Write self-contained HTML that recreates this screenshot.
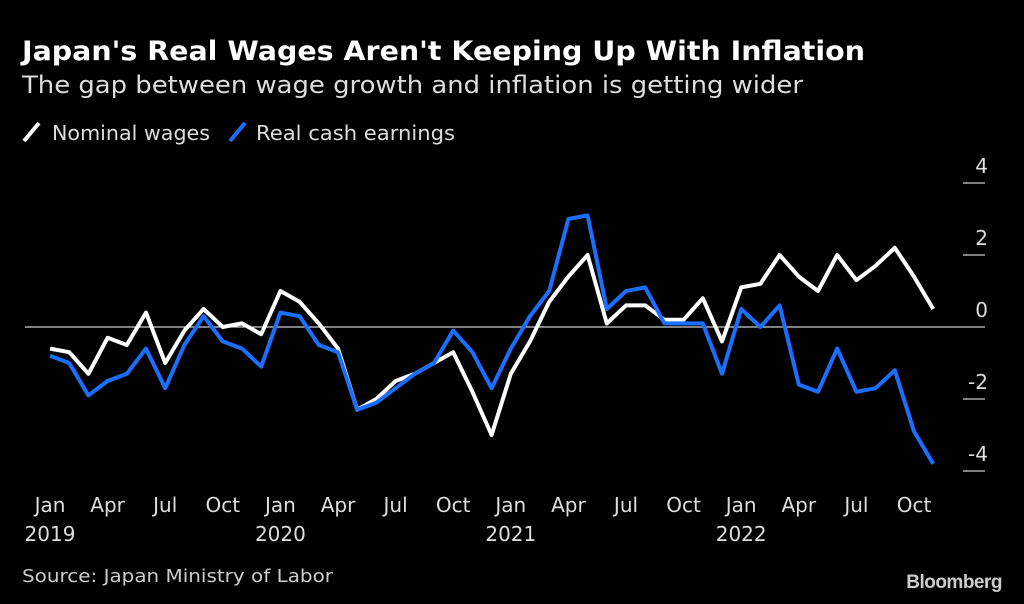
<!DOCTYPE html>
<html><head><meta charset="utf-8"><style>
html,body{margin:0;padding:0;background:#000;width:1024px;height:604px;overflow:hidden;font-family:"DejaVu Sans","Liberation Sans",sans-serif;color:#fff}
</style></head><body>
<svg width="1024" height="604" xmlns="http://www.w3.org/2000/svg" font-family="DejaVu Sans, Liberation Sans, sans-serif">
<text x="22" y="60" font-size="27" font-weight="bold" fill="#fff" textLength="843" lengthAdjust="spacingAndGlyphs">Japan's Real Wages Aren't Keeping Up With Inflation</text>
<text x="22" y="93" font-size="24" fill="#ddd" textLength="781" lengthAdjust="spacingAndGlyphs">The gap between wage growth and inflation is getting wider</text>
<g>
<line x1="24" y1="141" x2="39" y2="123" stroke="#fff" stroke-width="4"/>
<text x="52" y="140" font-size="20" fill="#ddd" textLength="158" lengthAdjust="spacingAndGlyphs">Nominal wages</text>
<line x1="230" y1="141" x2="245" y2="123" stroke="#1a6fff" stroke-width="4"/>
<text x="256" y="140" font-size="20" fill="#ddd" textLength="199" lengthAdjust="spacingAndGlyphs">Real cash earnings</text>
</g>
<g id="axes"></g>
<g id="series"></g>
<text x="22" y="582" font-size="18" fill="#ccc" textLength="311" lengthAdjust="spacingAndGlyphs">Source: Japan Ministry of Labor</text>
<text x="1002" y="588" font-size="19" font-weight="bold" fill="#ccc" text-anchor="end" font-family="Liberation Sans, sans-serif" letter-spacing="-0.5">Bloomberg</text>
</svg>
<script>
const nominal=[-0.6,-0.7,-1.3,-0.3,-0.5,0.4,-1.0,-0.1,0.5,0,0.1,-0.2,1.0,0.7,0.1,-0.6,-2.3,-2.0,-1.5,-1.3,-1.0,-0.7,-1.8,-3.0,-1.3,-0.4,0.7,1.4,2.0,0.1,0.6,0.6,0.2,0.2,0.8,-0.4,1.1,1.2,2.0,1.4,1.0,2.0,1.3,1.7,2.2,1.4,0.5];
const realEarnings=[-0.8,-1.0,-1.9,-1.5,-1.3,-0.6,-1.7,-0.5,0.3,-0.4,-0.6,-1.1,0.4,0.3,-0.5,-0.7,-2.3,-2.1,-1.7,-1.3,-1.0,-0.1,-0.7,-1.7,-0.6,0.3,1.0,3.0,3.1,0.5,1.0,1.1,0.1,0.1,0.1,-1.3,0.5,0,0.6,-1.6,-1.8,-0.6,-1.8,-1.7,-1.2,-2.9,-3.8];
const yTicks=[4,2,0,-2,-4];
const xLabels=["Jan","Apr","Jul","Oct","Jan","Apr","Jul","Oct","Jan","Apr","Jul","Oct","Jan","Apr","Jul","Oct"];
const yearLabels=["2019","2020","2021","2022"];
const NS="http://www.w3.org/2000/svg";
function xS(i){return 50+i*19.2;}
function yS(v){return 327-v*36;}
const axes=document.getElementById('axes'),series=document.getElementById('series');
function mk(tag,attrs,parent){const e=document.createElementNS(NS,tag);for(const k in attrs)e.setAttribute(k,attrs[k]);parent.appendChild(e);return e;}
yTicks.forEach(v=>{
  const l=mk('line',{x1:v===0?25:963,x2:985,y1:yS(v),y2:yS(v),stroke:'#fff','stroke-width':1},axes);
  
  
  const t=mk('text',{x:988,y:yS(v)-10,'font-size':20,fill:'#ddd','text-anchor':'end'},axes);
  t.textContent=String(v);
  
  
});
xLabels.forEach((s,k)=>{
  const x=xS(k*3);
  const t=mk('text',{x:x,y:512,'font-size':20,fill:'#ddd','text-anchor':'middle'},axes);
  t.textContent=s;
  
  
});
yearLabels.forEach((s,k)=>{
  const t=mk('text',{x:xS(k*12),y:541,'font-size':20,fill:'#ddd','text-anchor':'middle'},axes);
  t.textContent=s;
  
  
});
function line(arr,color,name){
  const p=mk('polyline',{points:arr.map((v,i)=>xS(i)+','+yS(v)).join(' '),fill:'none',stroke:color,'stroke-width':4,'stroke-linejoin':'round'},series);
  
  
}
line(nominal,'#fff','nominal-wages-line');
line(realEarnings,'#1a6fff','real-cash-earnings-line');
</script>
</body></html>
